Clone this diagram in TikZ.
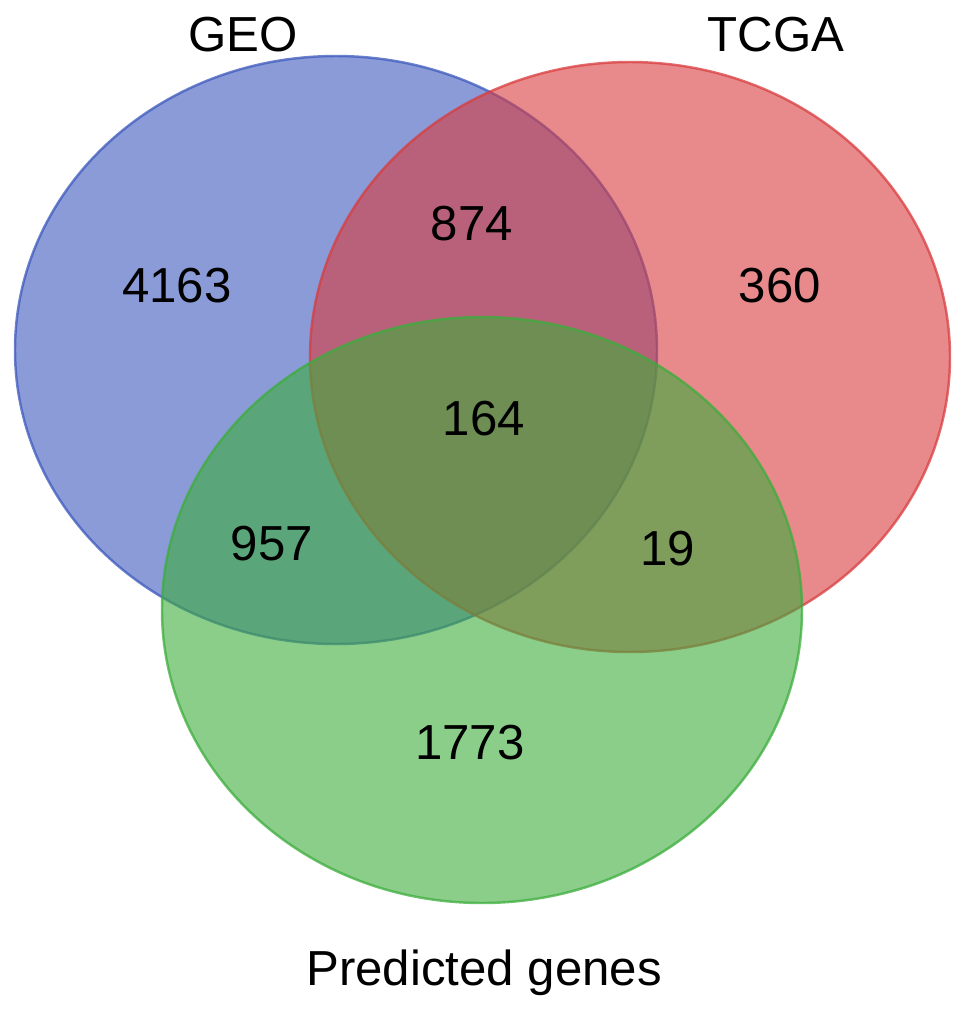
\documentclass[tikz,border=0pt]{standalone}
\usepackage{fontspec}
\setmainfont{Liberation Sans}
\definecolor{geoblue}{RGB}{60,88,188}
\definecolor{tcgared}{RGB}{217,60,62}
\definecolor{predgreen}{RGB}{60,173,60}
\begin{document}
\begin{tikzpicture}[x=0.02cm,y=-0.02cm,
  setfill/.style={fill=#1,fill opacity=0.6,draw=#1,draw opacity=0.75,line width=1.4pt},
  lab/.style={font=\fontsize{28}{32}\selectfont,anchor=base,inner sep=0pt}]
\useasboundingbox (0,0) rectangle (969,1009);

\draw[setfill=geoblue] (336,350) ellipse [x radius=321, y radius=294];
\draw[setfill=tcgared] (630,357) ellipse [x radius=320, y radius=295];
\draw[setfill=predgreen] (482,610) ellipse [x radius=320, y radius=293];

\node[lab] (geo) at (243,51) {GEO};
\node[lab] (tcga) at (776,51) {TCGA};
\node[lab] (pred) at (484,985) {Predicted genes};

\node[lab] (onlygeo) at (177,302) {4163};
\node[lab] (geotcga) at (472,240) {874};
\node[lab] (onlytcga) at (780,302) {360};
\node[lab] (all) at (484,435) {164};
\node[lab] (geopred) at (272,560) {957};
\node[lab] (tcgapred) at (668,565) {19};
\node[lab] (onlypred) at (470,759) {1773};
\end{tikzpicture}
\end{document}
